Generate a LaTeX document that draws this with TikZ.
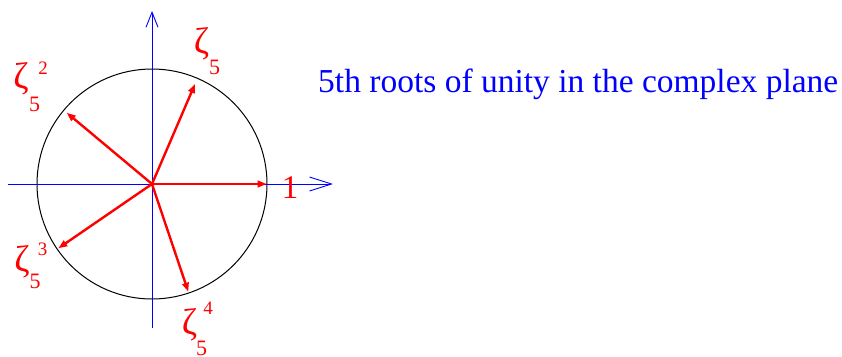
\documentclass[tikz,border=0pt]{standalone}
\usepackage{fontspec}
\setmainfont{Liberation Serif}
\usetikzlibrary{arrows.meta}
\begin{document}
\begin{tikzpicture}[x=1pt,y=-1pt,
  axis/.style={draw=blue,line width=0.9pt},
  root/.style={draw=red,line width=2.4pt,-{Triangle[length=9pt,width=6.5pt]}},
  zeta/.style={text=red,inner sep=0pt,font=\fontsize{37}{37}\selectfont},
  subs/.style={text=red,inner sep=0pt,font=\fontsize{22}{22}\selectfont},
  sups/.style={text=red,inner sep=0pt,font=\fontsize{19}{19}\selectfont}]
\useasboundingbox (0,0) rectangle (842,356);
\coordinate (C) at (152,184);
\coordinate (xl) at (8,184);
\coordinate (xr) at (333,184);
\coordinate (yb) at (152,328);
\coordinate (yt) at (152,11);
\draw[line width=1pt] (C) circle[radius=115];
\draw[axis,-{Straight Barb[length=22pt,width=14pt,line width=0.9pt]}] (xl) -- (xr);
\draw[axis,-{Straight Barb[length=15pt,width=12pt,line width=0.9pt]}] (yb) -- (yt);
\coordinate (p1) at (266.7,184);
\coordinate (p2) at (195,84);
\coordinate (p3) at (66.7,112.7);
\coordinate (p4) at (58.3,248.3);
\coordinate (p5) at (188.3,291.7);
\foreach \p in {p1,p2,p3,p4,p5} \draw[root] (C) -- (\p);
\node[text=red,inner sep=0pt,font=\fontsize{33}{33}\selectfont] (one) at (290,188) {1};
\node[zeta] (z1) at (201.5,44) {ζ};
\node[subs] (z1s) at (214.5,67.5) {5};
\node[zeta] (z2) at (21,79) {ζ};
\node[sups] (z2p) at (43,68.5) {2};
\node[subs] (z2s) at (34.5,104.5) {5};
\node[zeta] (z3) at (22,262) {ζ};
\node[sups] (z3p) at (42.5,249) {3};
\node[subs] (z3s) at (35,281.5) {5};
\node[zeta] (z4) at (189.5,325) {ζ};
\node[sups] (z4p) at (208,308) {4};
\node[subs] (z4s) at (201.5,348.5) {5};
\node[text=blue,inner sep=0pt,anchor=base west,font=\fontsize{33.5}{33.5}\selectfont] (title) at (318,92) {5th roots of unity in the complex plane};
\end{tikzpicture}
\end{document}
